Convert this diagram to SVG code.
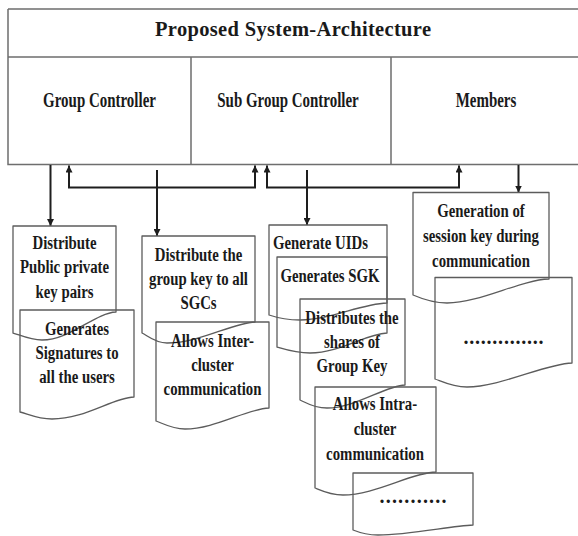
<svg xmlns="http://www.w3.org/2000/svg" width="578" height="536" viewBox="0 0 578 536">
<style>
.frame{fill:none;stroke:#6e6e6e;stroke-width:1.5}
.doc{fill:none;stroke:#5c5c5c;stroke-width:1.3;stroke-linejoin:round}
.con{fill:none;stroke:#1e1e1e;stroke-width:2}
.t{font-family:"Liberation Serif","Times New Roman",serif;font-weight:bold;font-size:19.5px;fill:#1a1a1a;text-anchor:middle}
.h{font-size:22px}
.ttl{font-size:20.5px}
.s{text-anchor:start}
.d{font-size:20px}
</style>
<defs>
<marker id="ah" markerUnits="userSpaceOnUse" markerWidth="8" markerHeight="7" refX="7" refY="3.5" orient="auto-start-reverse">
<path d="M0,0 L7,3.5 L0,7 Z" fill="#1e1e1e"/>
</marker>
</defs>
<rect width="578" height="536" fill="#ffffff"/>

<g id="architecture">
<path class="frame" d="M8,9 H582 M8,57 H582 M8,9 V164.5 H582 M191,57 V164.5 M391,57 V164.5"/>
<text class="t ttl" x="293" y="36" textLength="276" lengthAdjust="spacing">Proposed System-Architecture</text>
</g>
<g id="group-controller">
<text class="t h" transform="translate(99.5,0) scale(0.68,1)" x="0" y="107">Group Controller</text>
</g>
<g id="sub-group-controller">
<text class="t h" transform="translate(288,0) scale(0.68,1)" x="0" y="107">Sub Group Controller</text>
</g>
<g id="members">
<text class="t h" transform="translate(486,0) scale(0.68,1)" x="0" y="107">Members</text>
</g>

<g id="connectors">
<path class="con" d="M50.5,165 V226" marker-end="url(#ah)"/>
<path class="con" d="M157,170 V236" marker-end="url(#ah)"/>
<path class="con" d="M307,170 V225" marker-end="url(#ah)"/>
<path class="con" d="M518.5,165 V192.5" marker-end="url(#ah)"/>
<path class="con" d="M69,165.5 V187.5 H255 V165.5" marker-start="url(#ah)" marker-end="url(#ah)"/>
<path class="con" d="M267,165.5 V187.5 H459 V165.5" marker-start="url(#ah)" marker-end="url(#ah)"/>
</g>

<g id="distribute-key-pairs">
<path class="doc" d="M13,226 H116 V312 C95,313 70,340 42,340 C30,340 20,335 13,333 Z"/>
<text class="t" transform="translate(64.5,0) scale(0.76,1)"><tspan x="0" y="249">Distribute</tspan><tspan x="0" y="273.5">Public private</tspan><tspan x="0" y="298">key pairs</tspan></text>
</g>
<g id="generates-signatures">
<path class="doc" d="M20,310 H134 V397 C112,398 85,419 52,419 C38,419 28,414 20,412 Z"/>
<text class="t" transform="translate(77,0) scale(0.76,1)"><tspan x="0" y="335">Generates</tspan><tspan x="0" y="359">Signatures to</tspan><tspan x="0" y="383.5">all the users</tspan></text>
</g>

<g id="distribute-group-key">
<path class="doc" d="M142,236 H255 V322 C232,323 200,343 167,343 C155,343 148,336 142,333 Z"/>
<text class="t" transform="translate(198.5,0) scale(0.76,1)"><tspan x="0" y="261">Distribute the</tspan><tspan x="0" y="285">group key to all</tspan><tspan x="0" y="309">SGCs</tspan></text>
</g>
<g id="inter-cluster">
<path class="doc" d="M156,322 H269 V408 C246,409 215,429 185,429 C172,429 162,423 156,421 Z"/>
<text class="t" transform="translate(212.5,0) scale(0.76,1)"><tspan x="0" y="347">Allows Inter-</tspan><tspan x="0" y="371">cluster</tspan><tspan x="0" y="395.5">communication</tspan></text>
</g>

<g id="generate-uids">
<path class="doc" d="M269,225 H387 V303 C360,304 330,320 300,320 C285,320 275,317 269,315 Z"/>
<text class="t s" transform="translate(273,0) scale(0.76,1)" x="0" y="249">Generate UIDs</text>
</g>
<g id="generates-sgk">
<path class="doc" d="M277,257 H387 V333 C365,334 340,353 310,353 C295,353 284,349 277,347 Z"/>
<text class="t" transform="translate(330,0) scale(0.76,1)" x="0" y="282.5">Generates SGK</text>
</g>
<g id="distributes-shares">
<path class="doc" d="M300,299 H405 V385 C385,386 355,408 327,408 C313,408 305,402 300,400 Z"/>
<text class="t" transform="translate(352,0) scale(0.76,1)"><tspan x="0" y="324">Distributes the</tspan><tspan x="0" y="348">shares  of</tspan><tspan x="0" y="372.5">Group Key</tspan></text>
</g>
<g id="intra-cluster">
<path class="doc" d="M315,387 H436 V472 C410,473 375,495 343,495 C330,495 320,490 315,488 Z"/>
<text class="t" transform="translate(375,0) scale(0.76,1)"><tspan x="0" y="410">Allows Intra-</tspan><tspan x="0" y="435.5">cluster</tspan><tspan x="0" y="460.5">communication</tspan></text>
</g>
<g id="sgc-more">
<path class="doc" d="M353,473 H473 V525 C450,526 410,535 378,535 C366,535 358,532 353,530 Z"/>
<text class="t d" x="413" y="503" textLength="67" lengthAdjust="spacing">...........</text>
</g>

<g id="session-key">
<path class="doc" d="M413,192.5 H549 V279 C520,280 480,303 447,303 C432,303 420,298 413,295 Z"/>
<text class="t" transform="translate(481,0) scale(0.76,1)"><tspan x="0" y="217.5">Generation of</tspan><tspan x="0" y="242.5">session key  during</tspan><tspan x="0" y="267.5">communication</tspan></text>
</g>
<g id="members-more">
<path class="doc" d="M435,277.5 H572 V363 C545,364 500,387 467,387 C452,387 441,381 435,379 Z"/>
<text class="t d" x="503.5" y="344" textLength="80" lengthAdjust="spacing">..............</text>
</g>
</svg>
